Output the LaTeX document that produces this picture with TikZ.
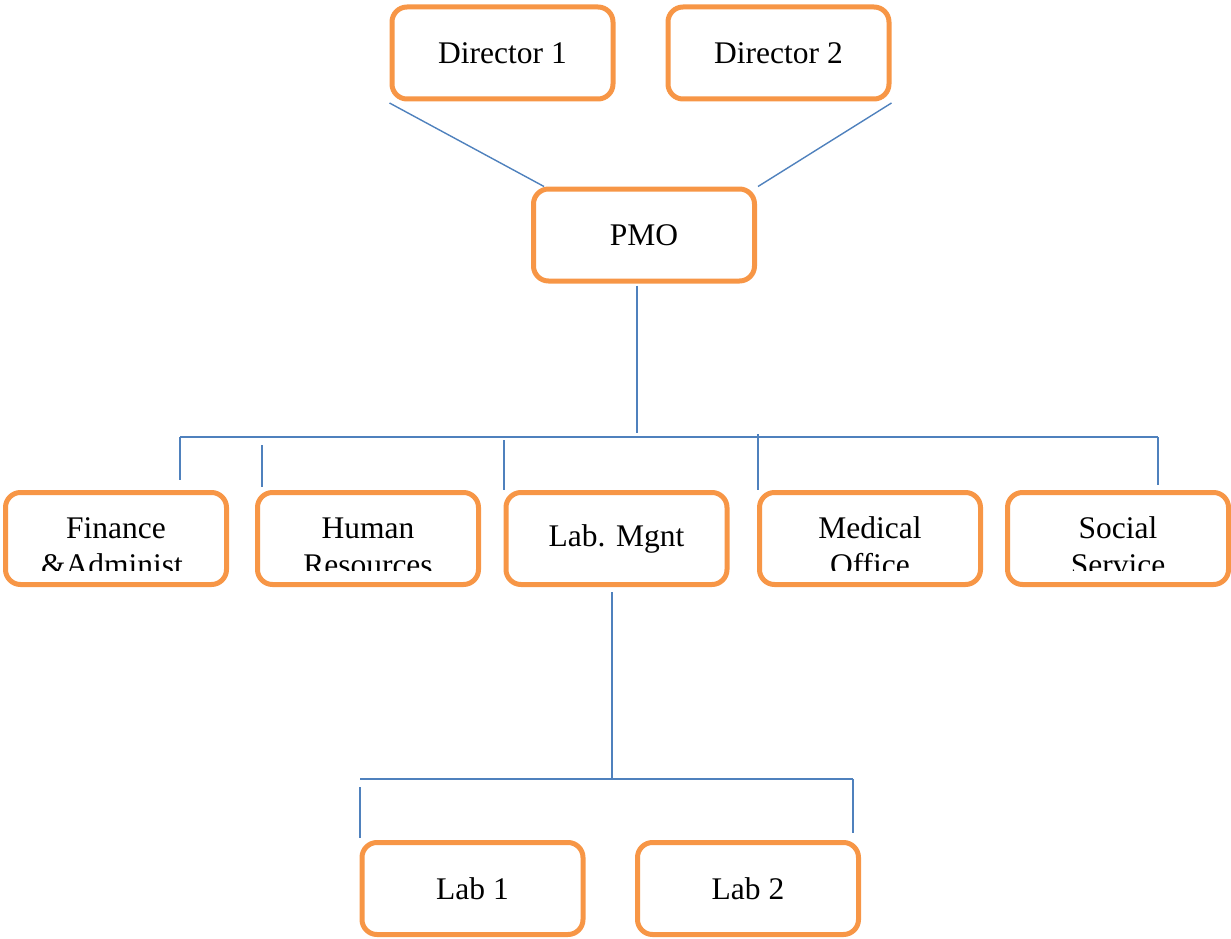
\documentclass[tikz,border=0pt]{standalone}
\usepackage{fontspec}
\setmainfont{Liberation Serif}
\usepackage{tikz}
\usetikzlibrary{calc,positioning}
\definecolor{corange}{RGB}{247,150,70}
\definecolor{cblue}{RGB}{79,129,189}
\tikzset{
  unit/.style={rectangle,rounded corners=15pt,draw=corange,line width=5pt,
    fill=white,minimum width=221pt,minimum height=92pt,inner sep=0pt,
    align=center,font=\fontsize{31.5}{37}\selectfont},
  lbl/.style={align=center,inner sep=0pt,font=\fontsize{31.5}{37}\selectfont},
  link/.style={draw=cblue,line width=1.4pt}
}

\begin{document}
\begin{tikzpicture}[x=1pt,y=-1pt]
  \useasboundingbox (0,0) rectangle (1231,939);
  % top level
  \node[unit] (d1) at (502.5,53) {Director 1};
  \node[unit] (d2) at (778.5,53) {Director 2};
  \node[unit] (pmo) at (644,235) {PMO};
  % departments
  \node[unit] (fin) at (116,538.5) {};
  \node[unit] (hr) at (368,538.5) {};
  \node[unit] (lm) at (616.5,538.5) {Lab. Mgnt};
  \node[unit] (med) at (870,538.5) {};
  \node[unit] (soc) at (1118,538.5) {};
  % labs
  \node[unit] (lab1) at (472.5,888.5) {Lab 1};
  \node[unit] (lab2) at (748,888.5) {Lab 2};
  % two-line labels cut off at the bottom of their boxes
  \foreach \n/\t in {fin/Finance\\\&Administ.,hr/Human\\Resources,
      med/Medical\\Office,soc/Social\\Service}{
    \begin{scope}
      \clip ([yshift=-4pt]\n.north west) rectangle ([yshift=17pt]\n.south east);
      \node[lbl] at ([yshift=-8pt]\n.center) {\t};
    \end{scope}
  }
  % directors to PMO
  \draw[link] ([yshift=-1.5pt]d1.south west) -- ([xshift=13pt]pmo.north west);
  \draw[link] ([yshift=-1.5pt]d2.south east) -- ([xshift=1pt]pmo.north east);
  % PMO to departments
  \coordinate (busL) at (180,437);
  \coordinate (busR) at (1158,437);
  \draw[link] ([shift={(-7pt,-2pt)}]pmo.south) -- ++(0,147);
  \draw[link] (busL) -- (busR);
  \draw[link] (busL) -- ([shift={(64pt,10pt)}]fin.north);
  \draw[link] ([shift={(-106pt,45pt)}]hr.north) -- ([shift={(-106pt,3pt)}]hr.north);
  \draw[link] ([shift={(-112.5pt,50pt)}]lm.north) -- ([xshift=-112.5pt]lm.north);
  \draw[link] ([shift={(-112pt,56pt)}]med.north) -- ([xshift=-112pt]med.north);
  \draw[link] (busR) -- ([shift={(40pt,5pt)}]soc.north);
  % Lab. Mgnt to labs
  \coordinate (bus2) at (612,779);
  \draw[link] ([shift={(-4.5pt,-5pt)}]lm.south) -- (bus2);
  \draw[link] (360,779) -- (853,779);
  \draw[link] ([shift={(-112.5pt,53pt)}]lab1.north) -- ([shift={(-112.5pt,2pt)}]lab1.north);
  \draw[link] ([shift={(105pt,61pt)}]lab2.north) -- ([shift={(105pt,7pt)}]lab2.north);
\end{tikzpicture}
\end{document}
